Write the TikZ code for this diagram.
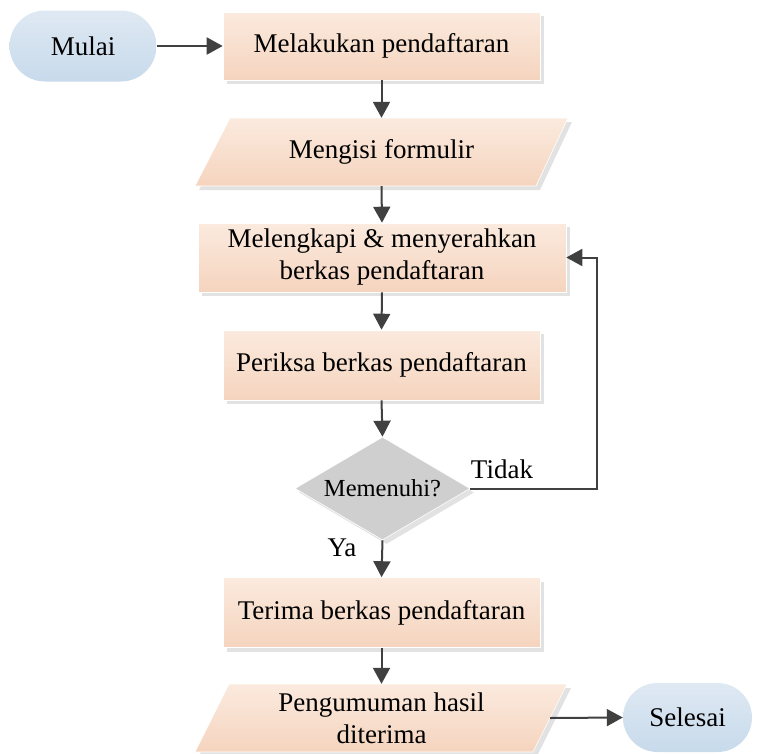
\documentclass[tikz,border=0pt]{standalone}
\usepackage{fontspec}
\setmainfont{Liberation Serif}
\usetikzlibrary{shapes.geometric,shapes.misc,shadows,arrows.meta}
\definecolor{peachT}{RGB}{251,234,222}
\definecolor{peachB}{RGB}{245,212,190}
\definecolor{blueT}{RGB}{223,233,243}
\definecolor{blueB}{RGB}{199,218,235}
\definecolor{shadowc}{RGB}{226,226,226}
\definecolor{linec}{RGB}{64,64,64}
\definecolor{diamc}{RGB}{207,207,207}
\begin{document}
\begin{tikzpicture}[x=1pt,y=-1pt,
  txt/.style={font=\fontsize{27}{32}\selectfont, align=center, inner sep=0pt},
  proc/.style={txt, rectangle, top color=peachT, bottom color=peachB, draw=white, line width=0.6pt,
    general shadow={shadow xshift=4pt, shadow yshift=-4pt, fill=shadowc}},
  term/.style={txt, rounded rectangle, top color=blueT, bottom color=blueB, minimum width=130pt, minimum height=70pt},
  para/.style={top color=peachT, bottom color=peachB, draw=white, line width=0.6pt},
  parashadow/.style={fill=shadowc, shift={(4,4)}},
  paratext/.style={txt, minimum height=68pt, minimum width=300pt},
  decision/.style={diamond, aspect=1.7, fill=diamc, draw=white, line width=0.6pt, inner sep=0pt,
    minimum width=175pt, minimum height=103pt, font=\fontsize{24.5}{28}\selectfont,
    general shadow={shadow xshift=4pt, shadow yshift=-4pt, fill=shadowc}},
  lbl/.style={font=\fontsize{27}{32}\selectfont, inner sep=0pt},
  flow/.style={draw=linec, line width=2pt, -{Triangle[length=16pt,width=17pt]}},
]
\useasboundingbox (0,0) rectangle (758,753);

% terminators
\node[term, minimum width=147pt, minimum height=71pt] (mulai) at (83,46) {Mulai};
\node[term, minimum width=129pt, minimum height=69pt] (selesai) at (687.5,717.5) {Selesai};

% processes
\node[proc, minimum width=317pt, minimum height=68pt] (daftar) at (381.5,46) {Melakukan pendaftaran};

\fill[parashadow] (195,186) -- (536,186) -- (568,118) -- (230,118) -- cycle;
\shade[para] (195,186) -- (536,186) -- (568,118) -- (230,118) -- cycle;
\node[paratext] (isi) at (381.5,152) {Mengisi formulir};

\node[proc, minimum width=368pt, minimum height=69pt] (lengkap) at (382,257.5) {Melengkapi \& menyerahkan\\berkas pendaftaran};
\node[proc, minimum width=317pt, minimum height=70pt] (periksa) at (381.5,365) {Periksa berkas pendaftaran};
\node[decision] (cek) at (382.5,488.5) {Memenuhi?};
\node[proc, minimum width=317pt, minimum height=70pt] (terima) at (381.5,612.5) {Terima berkas pendaftaran};

\fill[parashadow] (195,752) -- (533,752) -- (567,684) -- (229,684) -- cycle;
\shade[para] (195,752) -- (533,752) -- (567,684) -- (229,684) -- cycle;
\node[paratext] (umum) at (381.5,718) {Pengumuman hasil\\diterima};
\coordinate (umumE) at (550,718);

% connectors
\draw[flow] (mulai.east) -- (daftar.west);
\draw[flow] (daftar.south) -- (isi.north);
\draw[flow] (isi.south) -- (lengkap.north);
\draw[flow] (lengkap.south) -- (periksa.north);
\draw[flow] (periksa.south) -- (cek.north);
\draw[flow] (cek.south) -- (terima.north);
\draw[flow] (terima.south) -- (umum.north);
\draw[flow] (umumE) -- (selesai.west);
\coordinate (back) at (597,0);
\draw[flow] (cek.east) -- (back |- cek.east) -- (back |- lengkap.east) -- (lengkap.east);

% labels
\node[lbl] (tidak) at (502,469) {Tidak};
\node[lbl] (ya) at (342,548) {Ya};
\end{tikzpicture}
\end{document}
